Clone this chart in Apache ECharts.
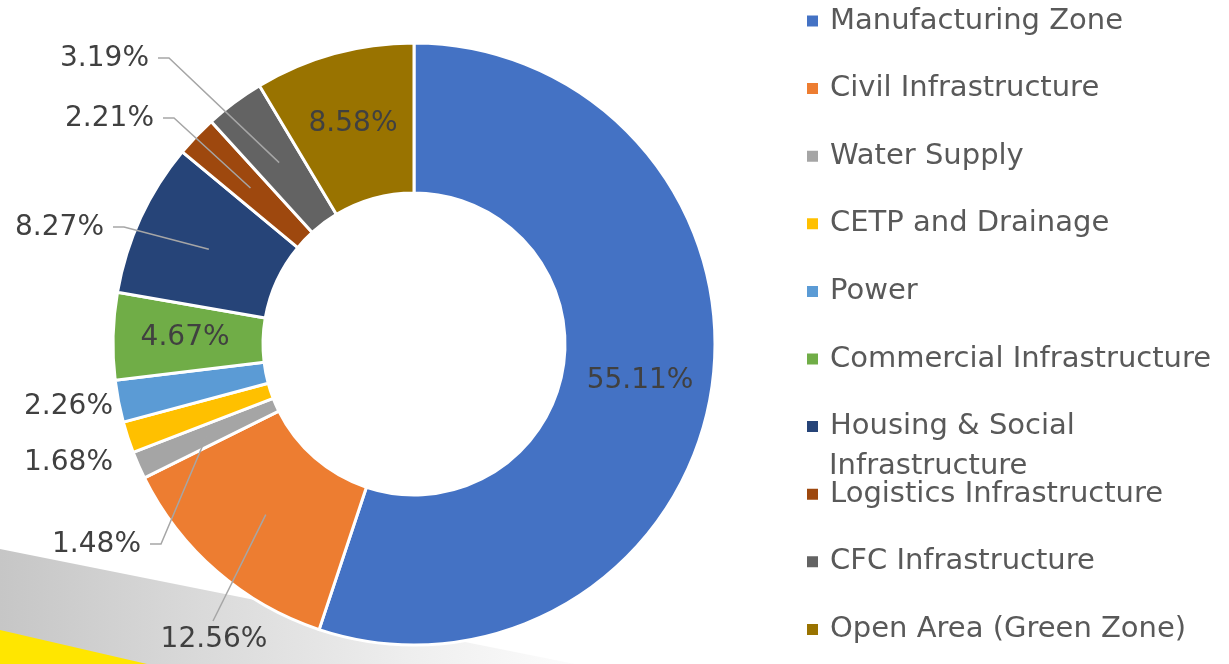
<!DOCTYPE html>
<html>
<head>
<meta charset="utf-8">
<script src="https://cdn.jsdelivr.net/npm/echarts@6/dist/echarts.min.js"></script>
<style>
  html, body { margin: 0; padding: 0; background: #fff; }
  #chart { width: 1229px; height: 664px; }
</style>
</head>
<body>
<div id="chart"></div>
<script>
const names = [
  "Manufacturing Zone",
  "Civil Infrastructure",
  "Water Supply",
  "CETP and Drainage",
  "Power",
  "Commercial Infrastructure",
  "Housing & Social Infrastructure",
  "Logistics Infrastructure",
  "CFC Infrastructure",
  "Open Area (Green Zone)",
];
const shares = [55.11, 12.56, 1.48, 1.68, 2.26, 4.67, 8.27, 2.21, 3.19, 8.58];
const colors = [
  "#4472c4", "#ed7d31", "#a5a5a5", "#ffc000", "#5b9bd5",
  "#70ad47", "#264478", "#9e480e", "#636363", "#997300",
];

// donut geometry
const cx = 414, cy = 344, r0 = 151, r1 = 301;
const midR = (r0 + r1) / 2;

const insideNames = ["Manufacturing Zone", "Commercial Infrastructure", "Open Area (Green Zone)"];
const noLineNames = ["CETP and Drainage", "Power"];

// where the outside labels go (anchor = right edge, middle of text)
const labelSpots = {
  "Civil Infrastructure": { x: 214, y: 640, align: "center" },
  "Water Supply": { x: 141, y: 545 },
  "CETP and Drainage": { x: 113, y: 463 },
  "Power": { x: 113, y: 407 },
  "Housing & Social Infrastructure": { x: 104, y: 228 },
  "Logistics Infrastructure": { x: 154, y: 119 },
  "CFC Infrastructure": { x: 149, y: 59 },
};

const total = shares.reduce((a, b) => a + b, 0);
let acc = 0;
const midAngles = shares.map((v) => {
  const m = ((acc + v / 2) / total) * 2 * Math.PI;
  acc += v;
  return m;
});

const chart = echarts.init(document.getElementById("chart"));

const sliceData = names.map((n, i) => {
  const item = { name: n, value: shares[i] };
  if (insideNames.includes(n)) {
    item.label = { show: true, position: "inside" };
  }
  return item;
});

// transparent copy on top, only to carry the outside labels and leader lines
const labelData = names.map((n, i) => {
  const item = { name: n, value: shares[i] };
  if (insideNames.includes(n)) {
    item.label = { show: false };
    item.labelLine = { show: false };
  } else if (noLineNames.includes(n)) {
    item.labelLine = { show: false };
  }
  return item;
});

const labelFont = {
  fontFamily: "DejaVu Sans",
  fontSize: 28,
  color: "#404040",
  formatter: (p) => p.value.toFixed(2) + "%",
};

const option = {
  animation: false,
  color: colors,
  graphic: [
    {
      type: "polygon",
      z: 0,
      shape: { points: [[0, 549], [680, 685], [0, 685]] },
      style: {
        fill: {
          type: "linear", x: 0, y: 0, x2: 1, y2: 0,
          colorStops: [
            { offset: 0, color: "#c6c6c6" },
            { offset: 0.6, color: "#eeeeee" },
            { offset: 0.9, color: "#ffffff" },
          ],
        },
      },
    },
    {
      type: "polygon",
      z: 1,
      shape: { points: [[0, 630], [160, 667], [0, 667]] },
      style: { fill: "#ffe600" },
    },
    {
      type: "text",
      z: 5,
      left: 829,
      top: 452,
      style: {
        text: "Infrastructure",
        font: '29px "DejaVu Sans"',
        fill: "#595959",
      },
    },
  ],
  legend: {
    orient: "vertical",
    left: 800,
    top: -1,
    icon: "rect",
    itemWidth: 13,
    itemHeight: 13,
    itemGap: 33.6,
    selectedMode: false,
    formatter: (n) => (n === "Housing & Social Infrastructure" ? "Housing & Social" : n),
    textStyle: {
      fontFamily: "DejaVu Sans",
      fontSize: 29,
      lineHeight: 34,
      color: "#595959",
      padding: [0, 0, 0, 6],
    },
    data: names,
  },
  series: [
    {
      type: "pie",
      z: 2,
      center: [cx, cy],
      radius: [r0, r1],
      startAngle: 90,
      clockwise: true,
      avoidLabelOverlap: false,
      itemStyle: { borderColor: "#fff", borderWidth: 3 },
      label: Object.assign({ show: false }, labelFont),
      labelLine: { show: false },
      data: sliceData,
    },
    {
      type: "pie",
      z: 3,
      center: [cx, cy],
      radius: [r0, r1],
      startAngle: 90,
      clockwise: true,
      silent: true,
      legendHoverLink: false,
      avoidLabelOverlap: false,
      itemStyle: { color: "rgba(0,0,0,0)", borderWidth: 0 },
      label: labelFont,
      labelLine: {
        show: true,
        length: 20,
        length2: 10,
        lineStyle: { color: "#a6a6a6", width: 1.5 },
      },
      labelLayout: (params) => {
        const name = names[params.dataIndex];
        const spot = labelSpots[name];
        if (!spot) return {};
        const a = midAngles[params.dataIndex];
        const start = [cx + midR * Math.sin(a), cy - midR * Math.cos(a)];
        let pts;
        if (spot.align === "center") {
          pts = [start, [spot.x - 1, spot.y - 19]];
        } else {
          pts = [start, [spot.x + 20, spot.y - 1], [spot.x + 9, spot.y - 1]];
        }
        return {
          x: spot.x,
          y: spot.y,
          align: spot.align || "right",
          verticalAlign: "middle",
          labelLinePoints: pts,
        };
      },
      data: labelData,
    },
  ],
};

chart.setOption(option);
</script>
</body>
</html>
